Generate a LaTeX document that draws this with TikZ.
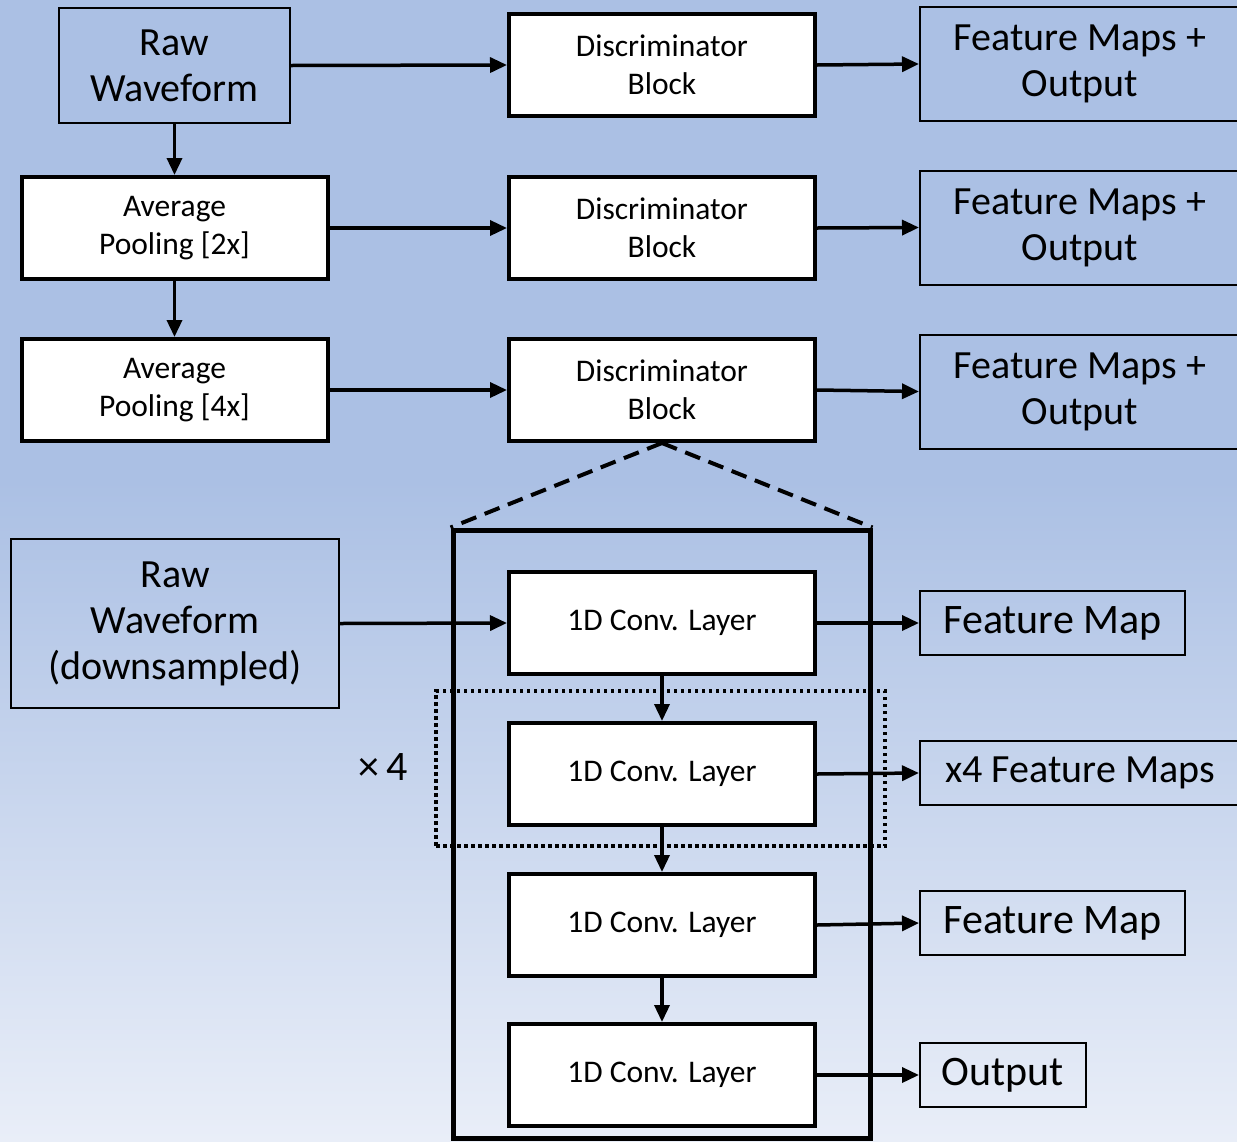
\documentclass[tikz,border=0pt]{standalone}
\usepackage{fontspec}
\setmainfont{Carlito}
\usetikzlibrary{arrows.meta}
\definecolor{bgtop}{RGB}{171,192,228}
\definecolor{bgbot}{RGB}{233,238,248}
\begin{document}
\begin{tikzpicture}[x=1pt,y=-1pt,
  bluebox/.style={draw=black,line width=2pt,fill=none,rectangle,inner sep=0pt,align=center,
    font=\fontsize{40}{46}\selectfont},
  whitebox/.style={draw=black,line width=4pt,fill=white,rectangle,inner sep=0pt,align=center,
    minimum width=306pt,minimum height=102pt,font=\fontsize{31.5}{38}\selectfont},
  convbox/.style={whitebox,font=\fontsize{31.5}{36}\selectfont},
  link/.style={line width=3.5pt,-{Triangle[length=17pt,width=15pt]}},
  zoomline/.style={line width=4pt,dash pattern=on 16pt off 9pt},
]
% background: flat blue above, fading to pale below
\fill[bgtop] (0,0) rectangle (1237,481);
\shade[top color=bgtop,bottom color=bgbot] (0,480) rectangle (1237,1141);
\useasboundingbox (0,0) rectangle (1237,1141);

% multi-scale discriminator
\node[bluebox,minimum width=231pt,minimum height=115pt] (raw) at (174.5,65.5) {Raw\\Waveform};
\node[whitebox] (avg2) at (174.5,228) {Average\\Pooling [2x]};
\node[whitebox] (avg4) at (174.5,390) {Average\\Pooling [4x]};
\node[whitebox] (d1) at (662,65) {Discriminator\\Block};
\node[whitebox] (d2) at (662,228) {Discriminator\\Block};
\node[whitebox] (d3) at (662,390) {Discriminator\\Block};
\node[bluebox,minimum width=320pt,minimum height=114pt] (fm1) at (1080,64) {Feature Maps +\\Output};
\node[bluebox,minimum width=320pt,minimum height=114pt] (fm2) at (1080,227.5) {Feature Maps +\\Output};
\node[bluebox,minimum width=320pt,minimum height=114pt] (fm3) at (1080,391.5) {Feature Maps +\\Output};

\draw[link] (raw) -- (avg2);
\draw[link] (avg2) -- (avg4);
\draw[link] (raw.east) -- (d1.west);
\draw[link] (avg2) -- (d2);
\draw[link] (avg4) -- (d3);
\draw[link] (d1.east) -- (fm1.west);
\draw[link] (d2.east) -- (fm2.west);
\draw[link] (d3.east) -- (fm3.west);

% inside one discriminator block
\node[draw=black,line width=5pt,rectangle,inner sep=0pt,minimum width=417pt,minimum height=608pt] (outer) at (661.5,834) {};
\draw[zoomline] (d3.south) -- (outer.north west);
\draw[zoomline] (d3.south) -- (outer.north east);

\node[bluebox,minimum width=328pt,minimum height=169pt] (rawds) at (175,623.5) {Raw\\Waveform\\(downsampled)};
\node[convbox] (c1) at (662,623) {1D Conv. Layer};
\node[convbox] (c2) at (662,774) {1D Conv. Layer};
\node[convbox] (c3) at (662,925) {1D Conv. Layer};
\node[convbox] (c4) at (662,1075) {1D Conv. Layer};
\node[draw=black,line width=3.5pt,dash pattern=on 3.5pt off 3.5pt,rectangle,inner sep=0pt,
  minimum width=449pt,minimum height=155pt] (rep) at (660.5,768.5) {};
\node[font=\fontsize{42}{46}\selectfont] (times) at (383,767) {×\,4};

\node[bluebox,font=\fontsize{42}{46}\selectfont,minimum width=265pt,minimum height=64pt] (fmA) at (1052.5,623) {Feature Map};
\node[bluebox,minimum width=320pt,minimum height=64pt] (fmB) at (1080,773) {x4 Feature Maps};
\node[bluebox,font=\fontsize{42}{46}\selectfont,minimum width=265pt,minimum height=64pt] (fmC) at (1052.5,923) {Feature Map};
\node[bluebox,font=\fontsize{42}{46}\selectfont,minimum width=166pt,minimum height=64pt] (out) at (1003,1075) {Output};

\draw[link] (rawds.east) -- (c1.west);
\draw[link] (c1) -- (c2);
\draw[link] (c2) -- (c3);
\draw[link] (c3) -- (c4);
\draw[link] (c1.east) -- (fmA.west);
\draw[link] (c2.east) -- (fmB.west);
\draw[link] (c3.east) -- (fmC.west);
\draw[link] (c4.east) -- (out.west);
\end{tikzpicture}
\end{document}
